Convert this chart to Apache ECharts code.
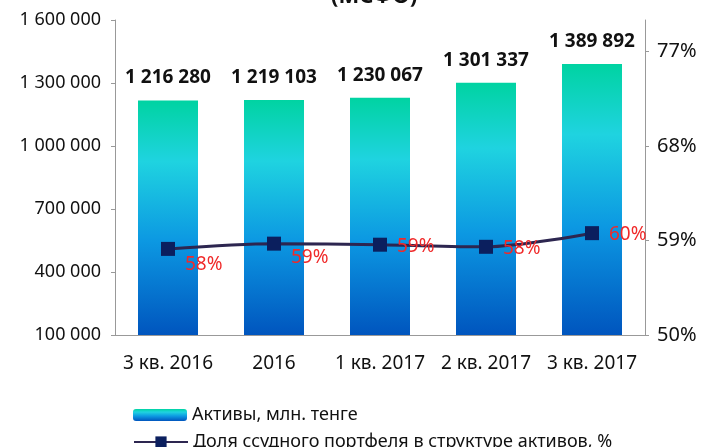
<!DOCTYPE html>
<html>
<head>
<meta charset="utf-8">
<script src="https://cdn.jsdelivr.net/npm/echarts@6/dist/echarts.min.js"></script>
<style>
  html, body { margin: 0; padding: 0; background: #fff; }
  #chart { width: 703px; height: 447px; }
</style>
</head>
<body>
<div id="chart"></div>
<script>
// data
const categories = ['3 кв. 2016', '2016', '1 кв. 2017', '2 кв. 2017', '3 кв. 2017'];
const assets = [1216280, 1219103, 1230067, 1301337, 1389892];   // млн. тенге
const loanShare = [58.2, 58.7, 58.6, 58.4, 59.7];               // %
const assetsName = 'Активы, млн. тенге';
const shareName = 'Доля ссудного портфеля в структуре активов, %';

const font = '"Noto Sans", "Open Sans", sans-serif';
const labelShift = [[0, 16], [0, 14], [0, 2], [0, 2], [0, 1]];  // where each % label sits

let chart = echarts.init(document.getElementById('chart'));

let barGradient = new echarts.graphic.LinearGradient(0, 0, 0, 1, [
    { offset: 0, color: '#00d3a2' },
    { offset: 0.26, color: '#1fd3e0' },
    { offset: 0.6, color: '#0c98e2' },
    { offset: 1, color: '#0055be' }
]);

function spaced(v) {   // 1216280 -> "1 216 280"
    return String(v).replace(/\B(?=(\d{3})+(?!\d))/g, ' ');
}

let legendText = { fontFamily: font, fontSize: 18, color: '#111' };

let option = {
    animation: false,
    textStyle: { fontFamily: font },
    title: {
        text: '(МСФО)',
        left: 326,
        top: -19,
        textStyle: { fontFamily: font, fontSize: 22, fontWeight: 'bold', color: '#111' }
    },
    grid: { left: 115, right: 58, top: 20, bottom: 112 },
    legend: [
        {
            left: 128, top: 401,
            itemWidth: 54, itemHeight: 12, itemGap: 4,
            textStyle: legendText,
            data: [assetsName]
        },
        {
            left: 128, top: 428,
            itemWidth: 54, itemHeight: 14, itemGap: 4,
            textStyle: legendText,
            data: [shareName]
        }
    ],
    xAxis: {
        type: 'category',
        data: categories,
        axisLine: { lineStyle: { color: '#999' } },
        axisTick: { show: false },
        axisLabel: { interval: 0, color: '#111', fontSize: 19, margin: 19, fontFamily: font }
    },
    yAxis: [
        {
            type: 'value',
            min: 100000,
            max: 1600000,
            interval: 300000,
            splitLine: { show: false },
            axisLine: { show: true, lineStyle: { color: '#999' } },
            axisTick: { show: true, length: 4, lineStyle: { color: '#999' } },
            axisLabel: {
                color: '#111', fontSize: 18, margin: 14, fontFamily: font,
                formatter: spaced
            }
        },
        {
            type: 'value',
            min: 50,
            max: 80,
            interval: 9,
            splitLine: { show: false },
            axisLine: { show: true, lineStyle: { color: '#999' } },
            axisTick: { show: true, length: 4, lineStyle: { color: '#999' } },
            axisLabel: {
                color: '#111', fontSize: 20, margin: 12, fontFamily: font,
                showMaxLabel: false,
                formatter: v => v + '%'
            }
        }
    ],
    series: [
        {
            name: assetsName,
            type: 'bar',
            data: assets,
            barWidth: 60,
            itemStyle: { color: barGradient },
            label: {
                show: true,
                position: 'top',
                distance: 13,
                color: '#111',
                fontSize: 19,
                fontWeight: 'bold',
                fontFamily: font,
                formatter: p => spaced(p.value)
            }
        },
        {
            name: shareName,
            type: 'line',
            yAxisIndex: 1,
            data: loanShare.map((v, i) => ({
                value: v,
                label: { offset: labelShift[i] }
            })),
            smooth: 0.3,
            symbol: 'rect',
            symbolSize: 14,
            lineStyle: { color: '#2d2650', width: 3 },
            itemStyle: { color: '#0b1f5e' },
            label: {
                show: true,
                position: 'right',
                distance: 10,
                color: '#f02a2a',
                fontSize: 19,
                fontFamily: font,
                formatter: p => Math.round(p.value) + '%'
            }
        }
    ]
};

chart.setOption(option);
</script>
</body>
</html>
